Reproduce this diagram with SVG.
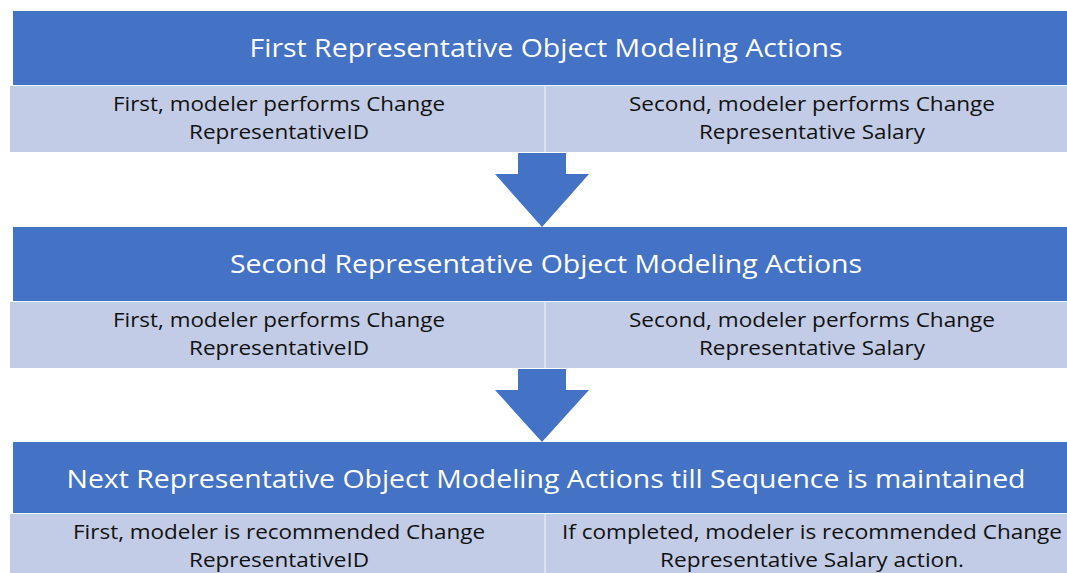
<svg xmlns="http://www.w3.org/2000/svg" width="1067" height="573" viewBox="0 0 1067 573">
<style>
.hdr{fill:#4472C4}
.row{fill:#C3CCE6}
.div{stroke:#DCE1F0;stroke-width:2}
.arr{fill:#4472C4}
.ht{font-family:"Open Sans","Liberation Sans",sans-serif;font-size:25px;fill:#FFFFFF;text-anchor:middle}
.rt{font-family:"Open Sans","Liberation Sans",sans-serif;font-size:19.5px;fill:#111111;text-anchor:middle}
</style>
<rect width="1067" height="573" fill="#FFFFFF"/>
<g id="node1">
<rect class="hdr" x="13" y="11" width="1054" height="74"/>
<text class="ht" x="546" y="57" textLength="593" lengthAdjust="spacingAndGlyphs">First Representative Object Modeling Actions</text>
<rect class="row" x="10" y="86" width="1057" height="66"/>
<line class="div" x1="545" y1="86" x2="545" y2="152"/>
<text class="rt" x="279" y="111" textLength="332" lengthAdjust="spacingAndGlyphs">First, modeler performs Change</text>
<text class="rt" x="279" y="139" textLength="180" lengthAdjust="spacingAndGlyphs">RepresentativeID</text>
<text class="rt" x="812" y="111" textLength="366" lengthAdjust="spacingAndGlyphs">Second, modeler performs Change</text>
<text class="rt" x="812" y="139" textLength="226" lengthAdjust="spacingAndGlyphs">Representative Salary</text>
</g>
<g id="node2">
<rect class="hdr" x="13" y="227" width="1054" height="74"/>
<text class="ht" x="546" y="273" textLength="632" lengthAdjust="spacingAndGlyphs">Second Representative Object Modeling Actions</text>
<rect class="row" x="10" y="302" width="1057" height="66"/>
<line class="div" x1="545" y1="302" x2="545" y2="368"/>
<text class="rt" x="279" y="327" textLength="332" lengthAdjust="spacingAndGlyphs">First, modeler performs Change</text>
<text class="rt" x="279" y="355" textLength="180" lengthAdjust="spacingAndGlyphs">RepresentativeID</text>
<text class="rt" x="812" y="327" textLength="366" lengthAdjust="spacingAndGlyphs">Second, modeler performs Change</text>
<text class="rt" x="812" y="355" textLength="226" lengthAdjust="spacingAndGlyphs">Representative Salary</text>
</g>
<g id="node3">
<rect class="hdr" x="13" y="442" width="1054" height="71"/>
<text class="ht" x="546" y="488" textLength="959" lengthAdjust="spacingAndGlyphs">Next Representative Object Modeling Actions till Sequence is maintained</text>
<rect class="row" x="10" y="514" width="1057" height="59"/>
<line class="div" x1="545" y1="514" x2="545" y2="573"/>
<text class="rt" x="279" y="539" textLength="412" lengthAdjust="spacingAndGlyphs">First, modeler is recommended Change</text>
<text class="rt" x="279" y="567" textLength="180" lengthAdjust="spacingAndGlyphs">RepresentativeID</text>
<text class="rt" x="812" y="539" textLength="500" lengthAdjust="spacingAndGlyphs">If completed, modeler is recommended Change</text>
<text class="rt" x="812" y="567" textLength="304" lengthAdjust="spacingAndGlyphs">Representative Salary action.</text>
</g>
<g id="connectors">
<polygon class="arr" points="518,153 566,153 566,174 589,174 542,227 495,174 518,174"/>
<polygon class="arr" points="518,369 566,369 566,390 589,390 542,442 495,390 518,390"/>
</g>
</svg>
